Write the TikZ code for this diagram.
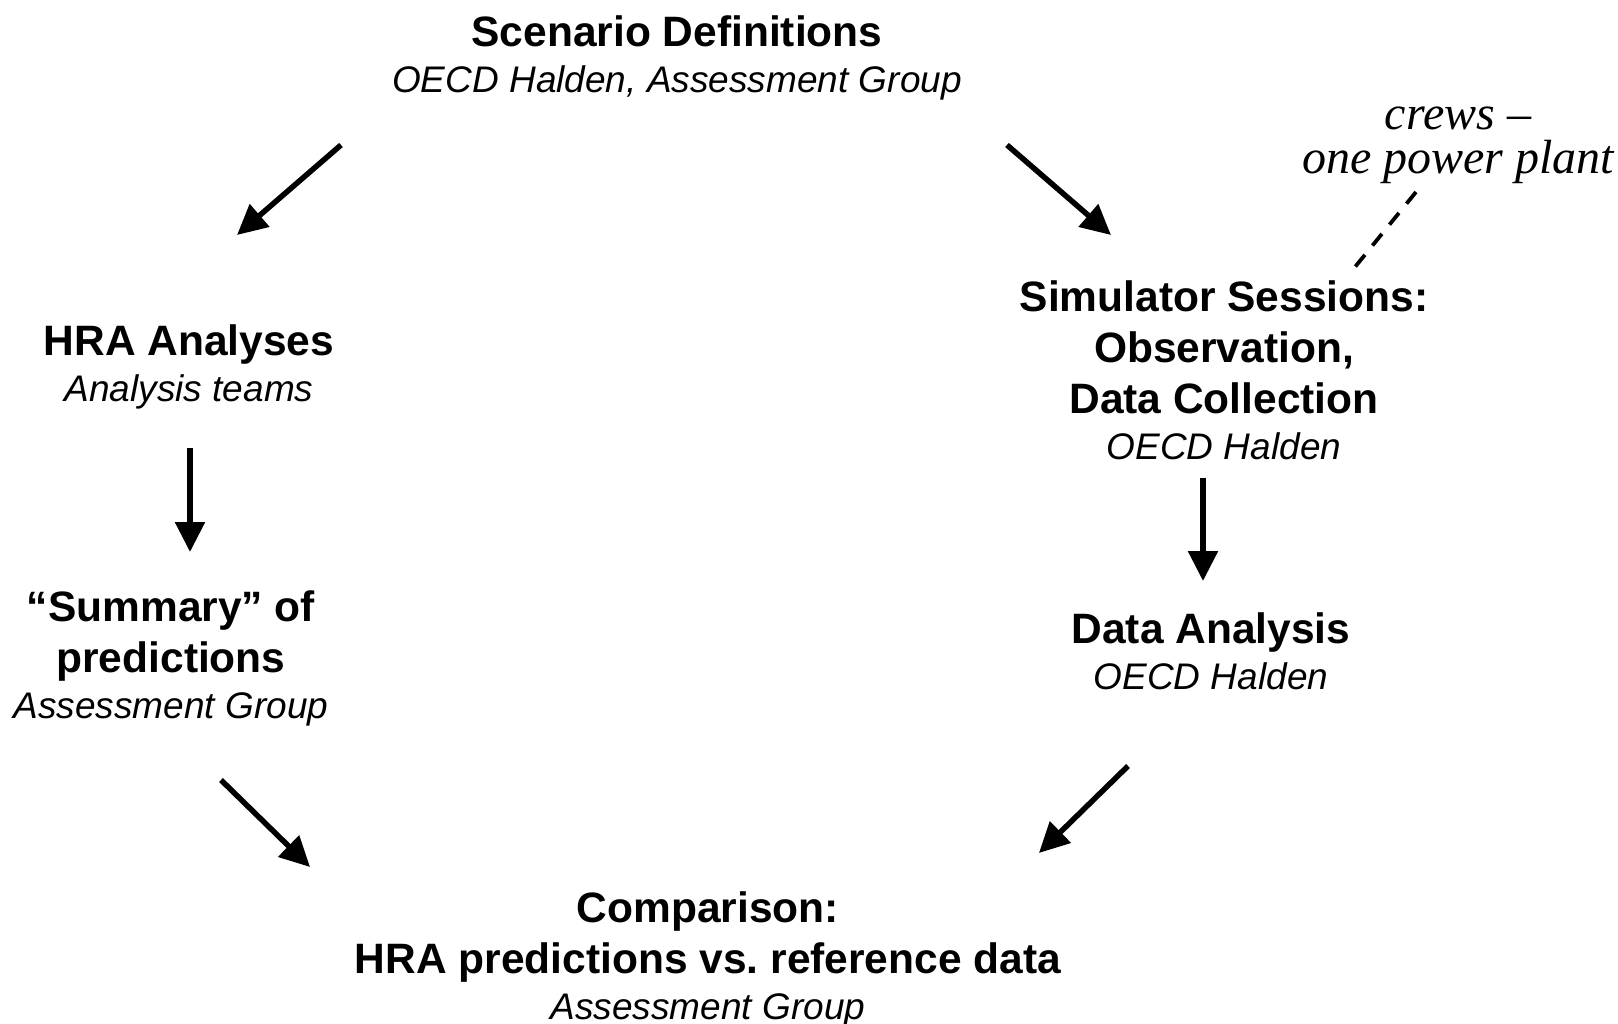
\documentclass[tikz,border=0pt]{standalone}
\usepackage{fontspec}
\setmainfont{Liberation Sans}
\newfontfamily\timesfont[Ligatures=TeX]{Liberation Serif}
\usetikzlibrary{arrows.meta}

\newcommand{\byline}[1]{{\mdseries\itshape\fontsize{37}{46}\selectfont #1}}

\begin{document}
\begin{tikzpicture}[x=1pt,y=-1pt,
        stage/.style={align=center,inner sep=0pt,font=\bfseries\fontsize{42.5}{51}\selectfont},
        flow/.style={line width=5.5pt,-{Triangle[width=29pt,length=30pt]}},
        remark/.style={align=center,inner sep=0pt,font=\timesfont\itshape\fontsize{48}{44}\selectfont}]
        \useasboundingbox (0,0) rectangle (1618,1024);

        \node[stage] (scen) at (677,57.5) {Scenario Definitions\\[-5pt]\byline{OECD Halden, Assessment Group}};
        \node[stage] (hra) at (189,366.5) {HRA Analyses\\[-5pt]\byline{Analysis teams}};
        \node[stage] (summ) at (171,658) {``Summary'' of\\predictions\\[-5pt]\byline{Assessment Group}};
        \node[stage] (sim) at (1224,370.5) {Simulator Sessions:\\Observation,\\Data Collection\\[-5pt]\byline{OECD Halden}};
        \node[stage] (data) at (1211,651.5) {Data Analysis\\[-5pt]\byline{OECD Halden}};
        \node[stage] (comp) at (708,959) {Comparison:\\HRA predictions vs.\ reference data\\[-5pt]\byline{Assessment Group}};
        \node[remark] (crews) at (1458,145) {crews --\\one power plant};

        \coordinate (scenL) at (341,145);
        \coordinate (hraT) at (237,235);
        \coordinate (scenR) at (1007,145);
        \coordinate (simT) at (1111,235);
        \coordinate (hraB) at (190,448);
        \coordinate (summT) at (190,552);
        \coordinate (simB) at (1203,478);
        \coordinate (dataT) at (1203,581);
        \coordinate (summB) at (221,780);
        \coordinate (compL) at (310,867);
        \coordinate (dataB) at (1128,766);
        \coordinate (compR) at (1039,853);
        \coordinate (crewsB) at (1416,192);
        \coordinate (simR) at (1355,267);

        \draw[flow] (scenL) -- (hraT);
        \draw[flow] (scenR) -- (simT);
        \draw[flow] (hraB) -- (summT);
        \draw[flow] (simB) -- (dataT);
        \draw[flow] (summB) -- (compL);
        \draw[flow] (dataB) -- (compR);
        \draw[line width=3.8pt,dash pattern=on 15pt off 12pt] (crewsB) -- (simR);

    \end{tikzpicture}
\end{document}
